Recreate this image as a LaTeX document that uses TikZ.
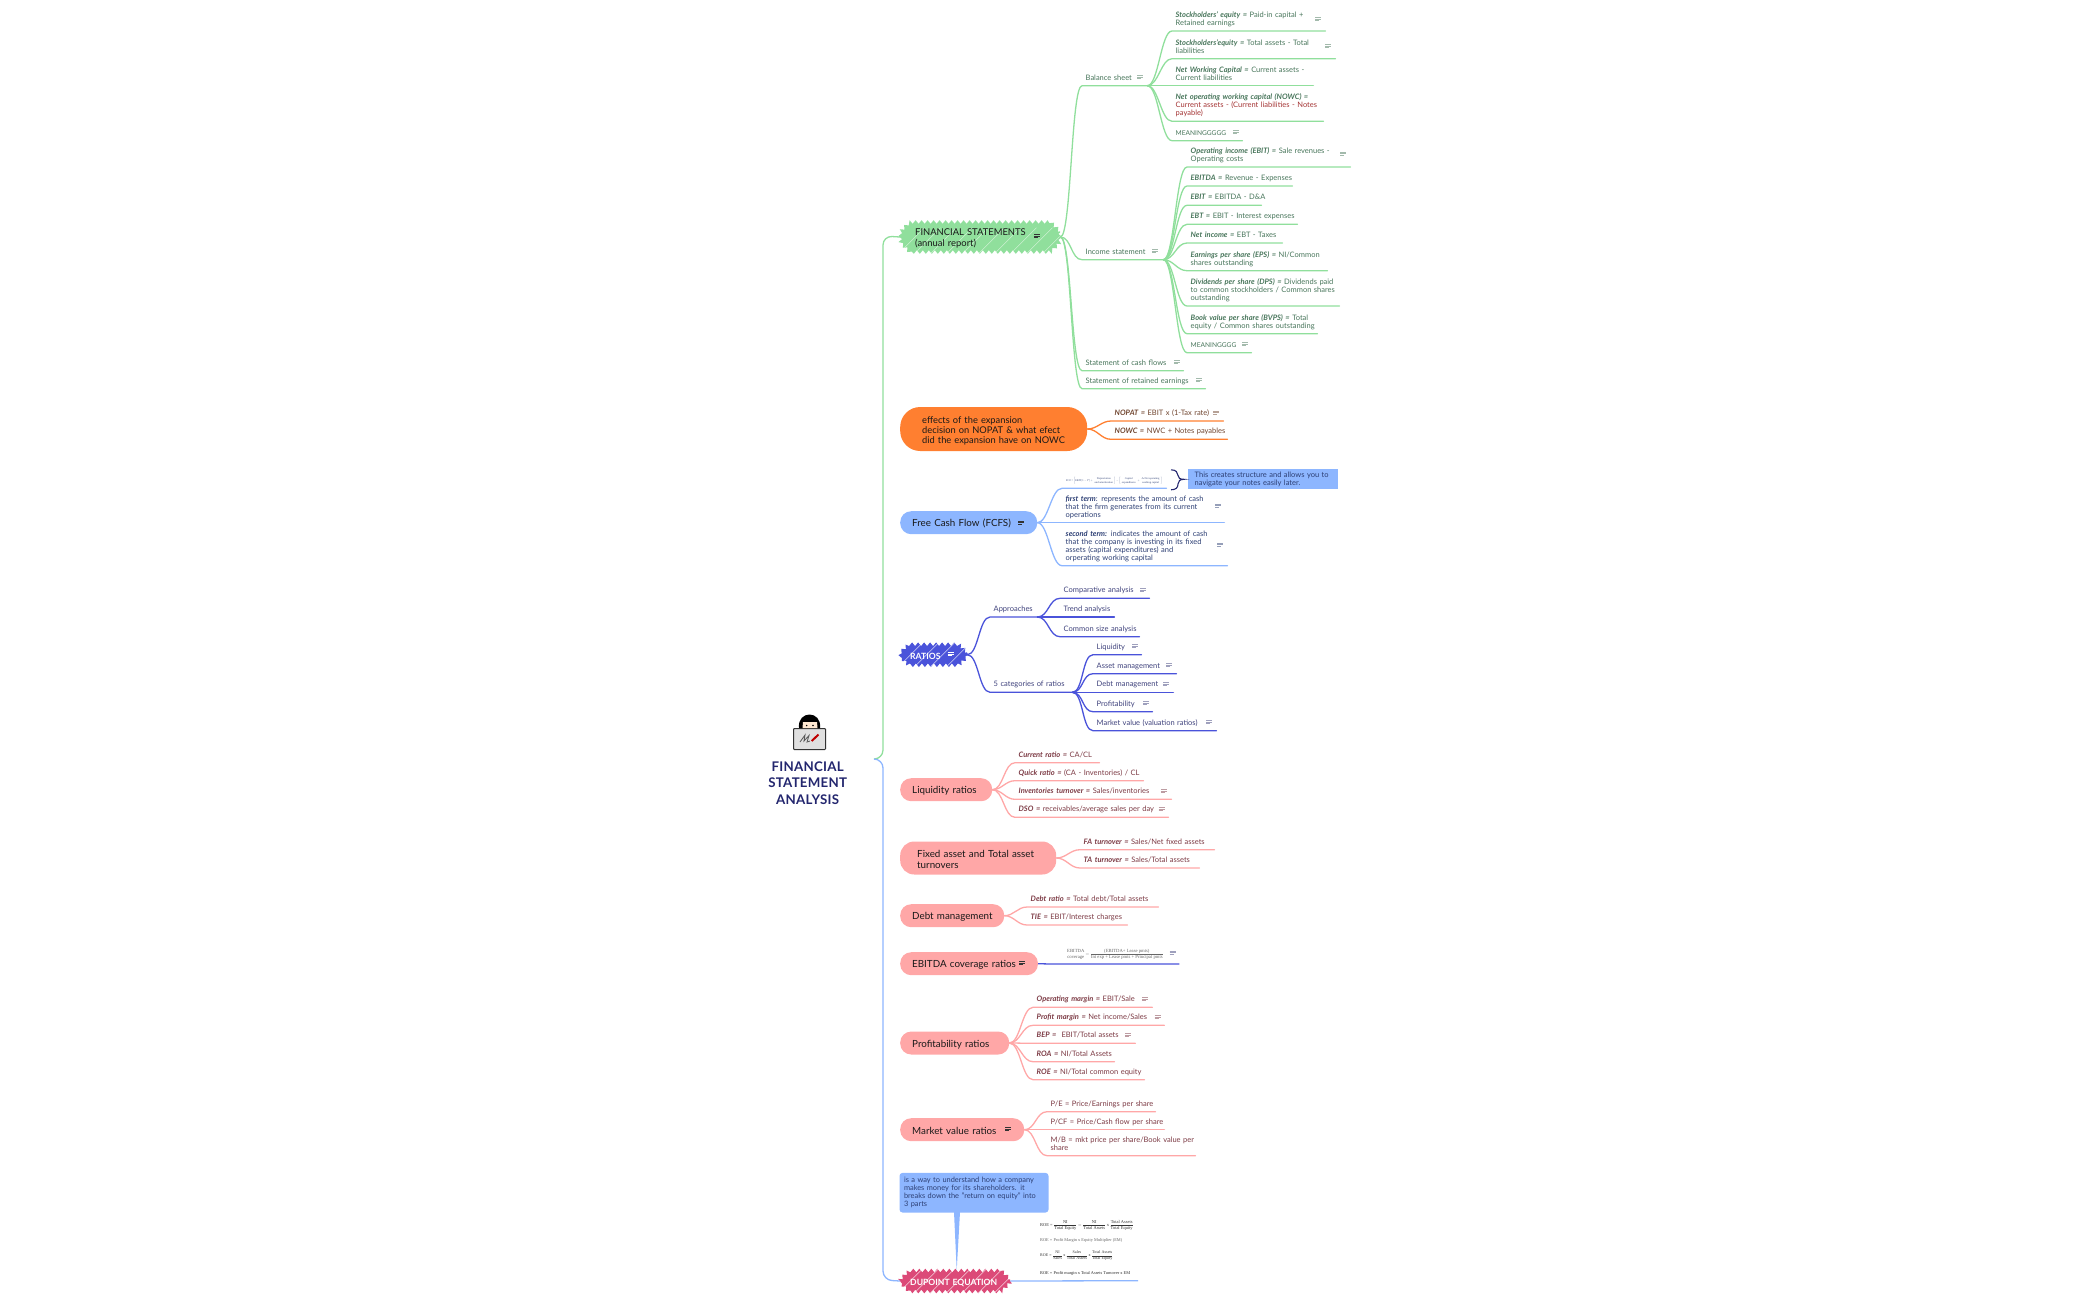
\documentclass[tikz,border=0pt]{standalone}
\usepackage{amsmath}
\usepackage{graphicx}
\usepackage{fontspec}
\setmainfont{Lato}
\newfontfamily\formfont{Liberation Serif}
\usepackage{tikz}
\usetikzlibrary{positioning}
\usetikzlibrary{shapes.misc,decorations.pathmorphing,calc}
\definecolor{grn}{HTML}{90DF9C}
\definecolor{grntxt}{HTML}{47755A}
\definecolor{org}{HTML}{FF7F30}
\definecolor{orgtxt}{HTML}{70452F}
\definecolor{blu}{HTML}{8DB6FF}
\definecolor{blutxt}{HTML}{2D3F74}
\definecolor{ind}{HTML}{4A53DA}
\definecolor{indtxt}{HTML}{3F427C}
\definecolor{pnk}{HTML}{FFA7A7}
\definecolor{pnktxt}{HTML}{7C3A44}
\definecolor{rse}{HTML}{DC4A78}
\definecolor{nvy}{HTML}{23266E}
\tikzstyle{leaf} = [anchor=south west, inner xsep=3.5pt, inner ysep=3pt, align=left, execute at end node={\strut}, font=\fontsize{7.5}{8}\selectfont]
\tikzstyle{gleaf} = [leaf, text=grntxt]
\tikzstyle{oleaf} = [leaf, text=orgtxt]
\tikzstyle{bleaf} = [leaf, text=blutxt]
\tikzstyle{ileaf} = [leaf, text=indtxt]
\tikzstyle{pleaf} = [leaf, text=pnktxt]
\tikzstyle{pill} = [anchor=west, rounded corners=11pt, inner xsep=12pt, inner ysep=0pt, align=left, text=black!90, execute at begin node={\rule{0pt}{10pt}}, font=\fontsize{9.8}{10.4}\selectfont]
\tikzstyle{jag} = [anchor=west, chamfered rectangle, chamfered rectangle xsep=6pt, inner xsep=0pt, inner ysep=0pt, align=left, decorate, decoration={zigzag,segment length=6pt,amplitude=1.8pt}, execute at begin node={\rule{0pt}{9.5pt}},
    path picture={\foreach \i in {0,16,...,160}{\draw[white,line width=.3pt] ([xshift=\i pt]path picture bounding box.south west) -- ++(26,-26);}}, font=\fontsize{9.4}{10.2}\selectfont]
\tikzstyle{limb} = [out=0, in=180, max distance=11pt, line width=1.3pt, line cap=round]
\tikzstyle{note} = [line width=.55pt]
\tikzstyle{frm} = [anchor=west, inner sep=0pt, font=\formfont]
\newcommand{\fitto}[2]{\resizebox{#1}{!}{#2}}
\tikzset{noteic/.pic={
    \draw[note,pic actions] (-3,-1.6) -- (3,-1.6);
    \draw[note,pic actions] (-3,0) -- (3,0);
    \draw[note,pic actions] (-3,1.6) -- (1,1.6);
}}
\newcommand{\ib}[1]{\textit{\textbf{#1}}}

\begin{document}
\begin{tikzpicture}[x=1pt,y=-1pt]
    \useasboundingbox (0,0) rectangle (2100,1299);
    % root
    \node (root) [align=center, text=nvy, font=\fontsize{13.3}{16.3}\bfseries\selectfont\addfontfeature{LetterSpace=2}] at (807.7,783) {FINANCIAL\\STATEMENT\\ANALYSIS};
    \coordinate (rootfork) at (874,759);
    \fill[black!12,draw=black!80,line width=1pt,rounded corners=.8pt] (793.5,728.5) rectangle (825.5,749.5);
    \fill[black] (799,728) .. controls (797,710) and (822,710) .. (820,728) -- cycle;
    \fill[orange!18!white] (803,722) -- (817,722) -- (817.5,728) -- (802.5,728) -- cycle;
    \fill[black] (806.7,725.5) circle (.8);
    \fill[black] (813,725.5) circle (.8);
    \draw[black!65,line width=.8pt] (800,742) -- (805,735) -- (804,741) -- (809,735.5) -- (807,742) -- (810,741);
    \draw[red!75!black,line width=2pt] (811.7,741) -- (818.5,734.5);

    % financial statements
    \node (fin) [jag, fill=grn, text=black!90, minimum width=160pt, minimum height=30pt, text width=130pt] at (900,237) {FINANCIAL STATEMENTS\\(annual report)};
    \node (bal) [gleaf, text width=58pt] at (1082,85.7) {Balance sheet};
    \node (inc) [gleaf, text width=74pt] at (1082,259.7) {Income statement};
    \node (cash) [gleaf, text width=94pt] at (1082,370.7) {Statement of cash flows};
    \node (keep) [gleaf, text width=116pt] at (1082,388.7) {Statement of retained earnings};
    \node (se1) [gleaf, text width=146pt] at (1172,31) {\ib{Stockholders' equity =} Paid-in capital +\\Retained earnings};
    \node (se2) [gleaf, text width=156pt] at (1172,58.7) {\ib{Stockholders'equity =} Total assets - Total\\liabilities};
    \node (nwc) [gleaf, text width=134pt] at (1172,85.7) {\ib{Net Working Capital =} Current assets -\\Current liabilities};
    \node (nowc) [gleaf, text width=144pt] at (1172,121.3) {\mbox{\ib{Net operating working capital (NOWC) =}}\\\mbox{\textcolor{red!55!black!80}{Current assets - (Current liabilities - Notes}}\\\textcolor{red!55!black!80}{payable)}};
    \node (mean1) [gleaf, text width=63pt] at (1172,140.7) {\fontsize{6.6}{8}\selectfont MEANINGGGGG};
    \node (ebit1) [gleaf, text width=156pt] at (1187,167) {\ib{Operating income (EBIT) =} Sale revenues -\\Operating costs};
    \node (ebitda) [gleaf, text width=98pt] at (1187,186) {\mbox{\ib{EBITDA =} Revenue - Expenses}};
    \node (ebit2) [gleaf, text width=67pt] at (1187,205.3) {\mbox{\ib{EBIT =} EBITDA - D\&A}};
    \node (ebt) [gleaf, text width=103pt] at (1187,224.3) {\mbox{\ib{EBT =} EBIT - Interest expenses}};
    \node (ni) [gleaf, text width=88pt] at (1187,243) {\mbox{\ib{Net income =} EBT - Taxes}};
    \node (eps) [gleaf, text width=133pt] at (1187,270.7) {\mbox{\ib{Earnings per share (EPS) =} NI/Common}\\shares outstanding};
    \node (dps) [gleaf, text width=145pt] at (1187,306) {\mbox{\ib{Dividends per share (DPS) =} Dividends paid}\\\mbox{to common stockholders / Common shares}\\outstanding};
    \node (bvps) [gleaf, text width=123pt] at (1187,333.7) {\mbox{\ib{Book value per share (BVPS) =} Total}\\\mbox{equity / Common shares outstanding}};
    \node (mean2) [gleaf, text width=57pt] at (1187,352.7) {\fontsize{6.6}{8}\selectfont MEANINGGGG};
    \draw[grn,limb] (fin.east) to (bal.south west) -- (bal.south east);
    \draw[grn,limb] (fin.east) to (inc.south west) -- (inc.south east);
    \draw[grn,limb] (fin.east) to (cash.south west) -- (cash.south east);
    \draw[grn,limb] (fin.east) to (keep.south west) -- (keep.south east);
    \draw[grn,limb] (bal.south east) to (se1.south west) -- (se1.south east);
    \draw[grn,limb] (bal.south east) to (se2.south west) -- (se2.south east);
    \draw[grn,limb] (bal.south east) to (nwc.south west) -- (nwc.south east);
    \draw[grn,limb] (bal.south east) to (nowc.south west) -- (nowc.south east);
    \draw[grn,limb] (bal.south east) to (mean1.south west) -- (mean1.south east);
    \draw[grn,limb] (inc.south east) to (ebit1.south west) -- (ebit1.south east);
    \draw[grn,limb] (inc.south east) to (ebitda.south west) -- (ebitda.south east);
    \draw[grn,limb] (inc.south east) to (ebit2.south west) -- (ebit2.south east);
    \draw[grn,limb] (inc.south east) to (ebt.south west) -- (ebt.south east);
    \draw[grn,limb] (inc.south east) to (ni.south west) -- (ni.south east);
    \draw[grn,limb] (inc.south east) to (eps.south west) -- (eps.south east);
    \draw[grn,limb] (inc.south east) to (dps.south west) -- (dps.south east);
    \draw[grn,limb] (inc.south east) to (bvps.south west) -- (bvps.south east);
    \draw[grn,limb] (inc.south east) to (mean2.south west) -- (mean2.south east);

    % expansion effects
    \node (effects) [pill, fill=org, rounded corners=20pt, inner xsep=22pt, text width=143pt, minimum height=44pt, font=\fontsize{9.3}{10}\selectfont] at (900,429) {effects of the expansion\\decision on NOPAT \& what efect\\\mbox{did the expansion have on NOWC}};
    \node (nopat) [oleaf, text width=105pt] at (1111,421) {\mbox{\ib{NOPAT =} EBIT x (1-Tax rate)}};
    \node (nowc2) [oleaf, text width=109pt] at (1111,439.3) {\mbox{\ib{NOWC =} NWC + Notes payables}};
    \draw[org,limb] (effects.east) to (nopat.south west) -- (nopat.south east);
    \draw[org,limb] (effects.east) to (nowc2.south west) -- (nowc2.south east);

    % free cash flow
    \node (fcf) [pill, fill=blu, text width=113pt, minimum height=23pt] at (900,522.7) {Free Cash Flow (FCFS)};
    \node (fcfeq) [anchor=south west, inner xsep=0pt, inner ysep=4pt, minimum width=104pt, text=blutxt, font=\formfont] at (1062,488.3) {\fitto{96pt}{FCF = $\left[\text{EBIT}(1-T)+\begin{array}{c}\text{Depreciation}\\ \text{and amortization}\end{array}\right]-\left[\begin{array}{c}\text{Capital}\\ \text{expenditures}\end{array}+\begin{array}{c}\Delta\text{ Net operating}\\ \text{working capital}\end{array}\right]$}};
    \node (first) [bleaf, text width=155pt] at (1062,522.7) {\mbox{\ib{first term}: represents the amount of cash}\\\mbox{that the firm generates from its current}\\operations};
    \node (second) [bleaf, text width=158pt] at (1062,565.7) {\mbox{\ib{second term:} indicates the amount of cash}\\that the company is investing in its fixed\\assets (capital expenditures) and\\orperating working capital};
    \draw[blu,limb] (fcf.east) to (fcfeq.south west) -- (fcfeq.south east);
    \draw[blu,limb] (fcf.east) to (first.south west) -- (first.south east);
    \draw[blu,limb] (fcf.east) to (second.south west) -- (second.south east);
    \node (sumbox) [anchor=west, fill=blu, inner xsep=6.5pt, inner ysep=0pt, text width=137pt, minimum height=20pt, align=left, text=blutxt, font=\fontsize{7.5}{8.2}\selectfont] at (1188,479.3) {\mbox{This creates structure and allows you to}\\navigate your notes easily later.};
    \coordinate (bracetop) at (1171,469.8);
    \coordinate (bracebot) at (1171,489.8);
    \coordinate (bracetip) at ($(sumbox.west)+(-4,0)$);
    \draw[nvy,line width=1.1pt] (bracetop) .. controls (1176,469.8) and (1178,472.5) .. (1178,475.5) .. controls (1178,478) and (1180,479.3) .. (bracetip) .. controls (1180,479.3) and (1178,481) .. (1178,484) .. controls (1178,487.5) and (1176,489.8) .. (bracebot);

    % ratios
    \node (ratios) [jag, fill=ind, text=white, minimum width=67pt, minimum height=21pt, text width=47pt, font=\fontsize{8.6}{10}\bfseries\selectfont] at (900,654.7) {RATIOS};
    \node (appr) [ileaf, text width=40pt] at (990,617) {Approaches};
    \node (cats) [ileaf, text width=75pt] at (990,692.3) {\mbox{5 categories of ratios}};
    \node (comp) [ileaf, text width=82pt] at (1060,598.3) {Comparative analysis};
    \node (trend) [ileaf, text width=47pt] at (1060,617) {\mbox{Trend analysis}};
    \node (common) [ileaf, text width=72pt] at (1060,636.7) {\mbox{Common size analysis}};
    \node (liqui) [ileaf, text width=41pt] at (1093,654.7) {Liquidity};
    \node (asset) [ileaf, text width=76pt] at (1093,673.7) {Asset management};
    \node (debt) [ileaf, text width=73pt] at (1093,692.3) {Debt management};
    \node (prof) [ileaf, text width=52pt] at (1093,711.7) {Profitability};
    \node (mval) [ileaf, text width=116pt] at (1093,730.7) {Market value (valuation ratios)};
    \draw[ind,limb] (ratios.east) to (appr.south west) -- (appr.south east);
    \draw[ind,limb] (ratios.east) to (cats.south west) -- (cats.south east);
    \draw[ind,limb] (appr.south east) to (comp.south west) -- (comp.south east);
    \draw[ind,limb] (appr.south east) to (trend.south west) -- (trend.south east);
    \draw[ind,limb] (appr.south east) to (common.south west) -- (common.south east);
    \draw[ind,limb] (cats.south east) to (liqui.south west) -- (liqui.south east);
    \draw[ind,limb] (cats.south east) to (asset.south west) -- (asset.south east);
    \draw[ind,limb] (cats.south east) to (debt.south west) -- (debt.south east);
    \draw[ind,limb] (cats.south east) to (prof.south west) -- (prof.south east);
    \draw[ind,limb] (cats.south east) to (mval.south west) -- (mval.south east);

    % liquidity ratios
    \node (liq) [pill, fill=pnk, text width=68pt, minimum height=23pt] at (900,789.7) {\mbox{Liquidity ratios}};
    \node (curr) [pleaf, text width=77pt] at (1015,762.7) {\mbox{\ib{Current ratio =} CA/CL}};
    \node (quick) [pleaf, text width=121pt] at (1015,780.7) {\mbox{\ib{Quick ratio =} (CA - Inventories) / CL}};
    \node (inv) [pleaf, text width=149pt] at (1015,799.3) {\mbox{\ib{Inventories turnover =} Sales/inventories}};
    \node (dso) [pleaf, text width=146pt] at (1015,817.3) {\mbox{\ib{DSO =} receivables/average sales per day}};
    \draw[pnk,limb] (liq.east) to (curr.south west) -- (curr.south east);
    \draw[pnk,limb] (liq.east) to (quick.south west) -- (quick.south east);
    \draw[pnk,limb] (liq.east) to (inv.south west) -- (inv.south east);
    \draw[pnk,limb] (liq.east) to (dso.south west) -- (dso.south east);

    % turnovers
    \node (fixed) [pill, fill=pnk, rounded corners=14pt, inner xsep=17pt, text width=122pt, minimum height=33pt] at (900,858) {\mbox{Fixed asset and Total asset}\\turnovers};
    \node (fa) [pleaf, text width=127pt] at (1080,849.7) {\mbox{\ib{FA turnover =} Sales/Net fixed assets}};
    \node (ta) [pleaf, text width=112pt] at (1080,868) {\mbox{\ib{TA turnover =} Sales/Total assets}};
    \draw[pnk,limb] (fixed.east) to (fa.south west) -- (fa.south east);
    \draw[pnk,limb] (fixed.east) to (ta.south west) -- (ta.south east);

    % debt management
    \node (dbt) [pill, fill=pnk, text width=80pt, minimum height=23pt] at (900,915.7) {\mbox{Debt management}};
    \node (dratio) [pleaf, text width=124pt] at (1027,907) {\mbox{\ib{Debt ratio =} Total debt/Total assets}};
    \node (tie) [pleaf, text width=93pt] at (1027,925) {\mbox{\ib{TIE =} EBIT/Interest charges}};
    \draw[pnk,limb] (dbt.east) to (dratio.south west) -- (dratio.south east);
    \draw[pnk,limb] (dbt.east) to (tie.south west) -- (tie.south east);

    % ebitda coverage
    \node (cov) [pill, fill=pnk, text width=113.7pt, minimum height=23pt] at (900,963.7) {\mbox{EBITDA coverage ratios}};
    \node (coveq) [anchor=south west, inner xsep=0pt, inner ysep=4pt, minimum width=128pt, text=black!60, font=\formfont] at (1051,964) {\fitto{96pt}{\begin{tabular}{@{}c@{}}EBITDA\\coverage\end{tabular} $=\dfrac{\text{(EBITDA+ Lease pmts)}}{\text{Int exp + Lease pmts + Principal pmts}}$}};
    \draw[ind,line width=1.3pt] (cov.east) -- (coveq.south west) -- (coveq.south east);

    % profitability
    \node (pro) [pill, fill=pnk, text width=85pt, minimum height=23pt] at (900,1043) {\mbox{Profitability ratios}};
    \node (opm) [pleaf, text width=112pt] at (1033,1007.3) {\mbox{\ib{Operating margin =} EBIT/Sale}};
    \node (pfm) [pleaf, text width=124pt] at (1033,1025.3) {\mbox{\ib{Profit margin =} Net income/Sales}};
    \node (bep) [pleaf, text width=95pt] at (1033,1043.3) {\mbox{\ib{BEP =} \ EBIT/Total assets}};
    \node (roa) [pleaf, text width=74pt] at (1033,1061.7) {\mbox{\ib{ROA =} NI/Total Assets}};
    \node (roe) [pleaf, text width=104pt] at (1033,1079.7) {\mbox{\ib{ROE =} NI/Total common equity}};
    \draw[pnk,limb] (pro.east) to (opm.south west) -- (opm.south east);
    \draw[pnk,limb] (pro.east) to (pfm.south west) -- (pfm.south east);
    \draw[pnk,limb] (pro.east) to (bep.south west) -- (bep.south east);
    \draw[pnk,limb] (pro.east) to (roa.south west) -- (roa.south east);
    \draw[pnk,limb] (pro.east) to (roe.south west) -- (roe.south east);

    % market value
    \node (mkt) [pill, fill=pnk, text width=100pt, minimum height=23pt] at (900,1129.7) {\mbox{Market value ratios}};
    \node (pe) [pleaf, text width=101pt] at (1047,1111.7) {\mbox{P/E = Price/Earnings per share}};
    \node (pcf) [pleaf, text width=110pt] at (1047,1129.7) {\mbox{P/CF = Price/Cash flow per share}};
    \node (mb) [pleaf, text width=141pt] at (1047,1155.7) {\mbox{M/B = mkt price per share/Book value per}\\share};
    \draw[pnk,limb] (mkt.east) to (pe.south west) -- (pe.south east);
    \draw[pnk,limb] (mkt.east) to (pcf.south west) -- (pcf.south east);
    \draw[pnk,limb] (mkt.east) to (mb.south west) -- (mb.south east);

    % dupoint
    \node (dup) [jag, fill=rse, text=white, minimum width=110pt, minimum height=21pt, text width=90pt, font=\fontsize{8.6}{10}\bfseries\selectfont] at (900,1281) {\mbox{DUPOINT EQUATION}};
    \node (callout) [anchor=north west, fill=blu, rounded corners=3pt, inner xsep=4.5pt, inner ysep=4pt, text width=140pt, minimum height=39.6pt, align=left, text=blutxt, font=\fontsize{7.4}{8}\selectfont] at (899.3,1172.7) {\mbox{is a way to understand how a company}\\makes money for its shareholders. it\\\mbox{breaks down the "return on equity" into}\\3 parts};
    \fill[blu] (954,1212) -- (960,1212) -- (dup.north -| 956.7,0) -- cycle;
    \node (roe1) [frm, text=black!80] at (1040,1225) {\fitto{93pt}{ROE = $\dfrac{\text{NI}}{\text{Total Equity}}=\dfrac{\text{NI}}{\text{Total Assets}}$ x $\dfrac{\text{Total Assets}}{\text{Total Equity}}$}};
    \node (roe2) [frm, text=black!60] at (1040,1240.3) {\fitto{82pt}{ROE = Profit Margin x Equity Multiplier (EM)}};
    \node (roe3) [frm, text=black!80] at (1040,1255.7) {\fitto{72.7pt}{ROE = $\dfrac{\text{NI}}{\text{Sales}}$ x $\dfrac{\text{Sales}}{\text{Total Assets}}$ x $\dfrac{\text{Total Assets}}{\text{Total Equity}}$}};
    \node (roe4) [frm, text=black!85] at (1040,1273.7) {\fitto{90pt}{ROE = Profit margin x Total Assets Turnover x EM}};
    \coordinate (dupend) at (1138,1280.7);
    \draw[blu,line width=1.3pt] (dup.east) -- (dupend);

    % root connectors
    \draw[grn,line width=1.3pt,rounded corners=9pt] (rootfork) -- (883,759) -- (883,236) -- (fin.west);
    \draw[blu,line width=1.3pt,rounded corners=9pt] (rootfork) -- (883,759) -- (883,1280) -- (dup.west);

    % note icons
    \pic[draw=black!80] at (1037,236) {noteic};
    \pic[draw=grntxt!50] at (1140,77) {noteic};
    \pic[draw=grntxt!50] at (1318,19) {noteic};
    \pic[draw=grntxt!50] at (1328,46) {noteic};
    \pic[draw=grntxt!50] at (1236,132) {noteic};
    \pic[draw=grntxt!50] at (1155,251) {noteic};
    \pic[draw=grntxt!50] at (1343,153.7) {noteic};
    \pic[draw=grntxt!50] at (1245,344) {noteic};
    \pic[draw=grntxt!50] at (1177,362) {noteic};
    \pic[draw=grntxt!50] at (1199,380) {noteic};
    \pic[draw=orgtxt!50] at (1216,412.7) {noteic};
    \pic[draw=black!80] at (1021,522.7) {noteic};
    \pic[draw=blutxt!50] at (1218,505.7) {noteic};
    \pic[draw=blutxt!50] at (1220,544.7) {noteic};
    \pic[draw=white] at (950.7,654) {noteic};
    \pic[draw=indtxt!50] at (1143,590) {noteic};
    \pic[draw=indtxt!50] at (1135,646) {noteic};
    \pic[draw=indtxt!50] at (1169,665) {noteic};
    \pic[draw=indtxt!50] at (1166,684) {noteic};
    \pic[draw=indtxt!50] at (1146,703) {noteic};
    \pic[draw=indtxt!50] at (1209,722) {noteic};
    \pic[draw=pnktxt!50] at (1164,791) {noteic};
    \pic[draw=pnktxt!50] at (1161.7,809) {noteic};
    \pic[draw=black!80] at (1022,963) {noteic};
    \pic[draw=indtxt!50] at (1172.7,952.7) {noteic};
    \pic[draw=pnktxt!50] at (1145,999) {noteic};
    \pic[draw=pnktxt!50] at (1157.7,1017) {noteic};
    \pic[draw=pnktxt!50] at (1128,1035) {noteic};
    \pic[draw=black!80] at (1008.3,1129) {noteic};
\end{tikzpicture}
\end{document}
